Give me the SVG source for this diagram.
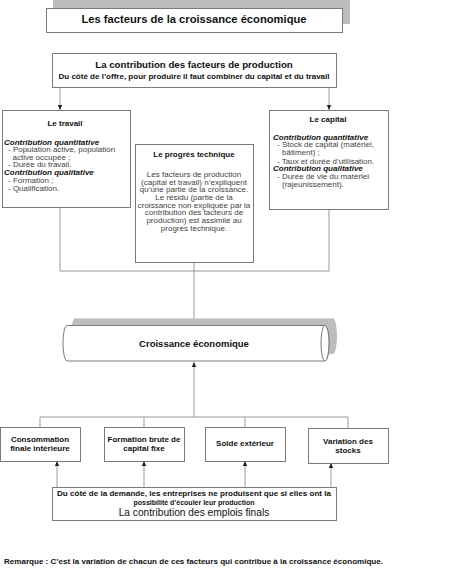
<svg xmlns="http://www.w3.org/2000/svg" width="474" height="577" viewBox="0 0 474 577">
<defs>
<style>
text{font-family:"Liberation Sans",Arial,sans-serif;fill:#111}
.box{fill:#fff;stroke:#7a7a7a;stroke-width:1}
.sh{fill:#bdbdbd;stroke:none}
.ln{fill:none;stroke:#9a9a9a;stroke-width:1}
.b{font-weight:bold}
.bi{font-weight:bold;font-style:italic;font-size:8px}
.t8{font-size:8px;fill:#444}
.c{text-anchor:middle}
.hb{font-weight:bold;font-size:8px}
</style>
<marker id="ar" markerWidth="6" markerHeight="6" refX="5" refY="3" orient="auto" markerUnits="userSpaceOnUse">
<path d="M0,0.8 L5,3 L0,5.2 Z" fill="#222"/>
</marker>
</defs>
<rect width="474" height="577" fill="#fff"/>

<g id="connectors">
<line class="ln" x1="60" y1="87" x2="60" y2="110" marker-end="url(#ar)"/>
<line class="ln" x1="329" y1="87" x2="329" y2="110" marker-end="url(#ar)"/>
<polyline class="ln" points="60,208 60,271 329,271 329,209"/>
<line class="ln" x1="194" y1="262" x2="194" y2="325" marker-end="url(#ar)"/>
<line class="ln" x1="194" y1="417" x2="194" y2="362" marker-end="url(#ar)"/>
<polyline class="ln" points="40,427 40,417 348,417 348,428"/>
<line class="ln" x1="144" y1="417" x2="144" y2="427"/>
<line class="ln" x1="245" y1="417" x2="245" y2="427"/>
<line class="ln" x1="57" y1="487" x2="57" y2="461" marker-end="url(#ar)"/>
<line class="ln" x1="144" y1="487" x2="144" y2="461" marker-end="url(#ar)"/>
<line class="ln" x1="245" y1="487" x2="245" y2="461" marker-end="url(#ar)"/>
<line class="ln" x1="331" y1="487" x2="331" y2="463" marker-end="url(#ar)"/>
</g>

<g id="title">
<rect class="sh" x="53" y="0" width="297" height="24"/>
<rect class="box" x="46.5" y="8.5" width="296" height="24"/>
<text class="b c" x="194" y="23" font-size="11.2">Les facteurs de la croissance économique</text>
</g>

<g id="offre">
<rect class="box" x="52.5" y="53.5" width="284" height="34"/>
<text class="b c" x="194" y="68" font-size="9.7">La contribution des facteurs de production</text>
<text class="b c" x="194" y="78.5" font-size="7" textLength="271" lengthAdjust="spacingAndGlyphs">Du côté de l’offre, pour produire il faut combiner du capital et du travail</text>
</g>

<g id="travail">
<rect class="box" x="2.5" y="110.5" width="128" height="97"/>
<text class="hb c" x="65" y="126">Le travail</text>
<text class="bi" x="4" y="144.5">Contribution quantitative</text>
<text class="t8" x="8" y="152">- Population active, population</text>
<text class="t8" x="12.5" y="159.5">active occupée ;</text>
<text class="t8" x="8" y="167">- Durée du travail.</text>
<text class="bi" x="4" y="175">Contribution qualitative</text>
<text class="t8" x="8" y="183">- Formation ;</text>
<text class="t8" x="8" y="190.5">- Qualification.</text>
</g>

<g id="progres">
<rect class="box" x="135.5" y="144.5" width="118" height="118"/>
<text class="hb c" x="194" y="157">Le progrès technique</text>
<text class="t8 c" x="194" y="177">Les facteurs de production</text>
<text class="t8 c" x="194" y="184.7">(capital et travail) n’expliquent</text>
<text class="t8 c" x="194" y="192.3">qu’une partie de la croissance.</text>
<text class="t8 c" x="194" y="200">Le résidu (partie de la</text>
<text class="t8 c" x="194" y="207.7">croissance non expliquée par la</text>
<text class="t8 c" x="194" y="215.3">contribution des facteurs de</text>
<text class="t8 c" x="194" y="223">production) est assimilé au</text>
<text class="t8 c" x="194" y="230.7">progrès technique.</text>
</g>

<g id="capital">
<rect class="box" x="269.5" y="110.5" width="119" height="99"/>
<text class="hb c" x="328" y="121.5">Le capital</text>
<text class="bi" x="273" y="139.5">Contribution quantitative</text>
<text class="t8" x="277" y="147">- Stock de capital (matériel,</text>
<text class="t8" x="282" y="155">bâtiment) ;</text>
<text class="t8" x="277" y="163.5">- Taux et durée d’utilisation.</text>
<text class="bi" x="273" y="171">Contribution qualitative</text>
<text class="t8" x="277" y="179">- Durée de vie du matériel</text>
<text class="t8" x="282" y="187">(rajeunissement).</text>
</g>

<g id="croissance">
<path class="sh" d="M75,318.5 L333,318.5 A4,17.75 0 0 1 333,354 L75,354 A4,17.75 0 0 1 75,318.5 Z"/>
<path class="box" d="M67,325.5 L325,325.5 A4,17.75 0 0 1 325,361 L67,361 A4,17.75 0 0 1 67,325.5 Z"/>
<ellipse class="box" cx="325" cy="343.25" rx="4" ry="17.75" fill="none"/>
<text class="b c" x="194" y="346.5" font-size="9.5">Croissance économique</text>
</g>

<g id="consommation">
<rect class="box" x="0.5" y="427.5" width="80" height="34"/>
<text class="hb c" x="40" y="442">Consommation</text>
<text class="hb c" x="40" y="451.3">finale intérieure</text>
</g>
<g id="formation">
<rect class="box" x="104.5" y="427.5" width="80" height="34"/>
<text class="hb c" x="144" y="442">Formation brute de</text>
<text class="hb c" x="144" y="451.3">capital fixe</text>
</g>
<g id="solde">
<rect class="box" x="205.5" y="427.5" width="80" height="34"/>
<text class="hb c" x="245" y="446.3">Solde extérieur</text>
</g>
<g id="variation">
<rect class="box" x="308.5" y="428.5" width="80" height="35"/>
<text class="hb c" x="348" y="443.7">Variation des</text>
<text class="hb c" x="348" y="453.3">stocks</text>
</g>

<g id="demande">
<rect class="box" x="52.5" y="487.5" width="284" height="33"/>
<text class="b c" x="194" y="495.5" font-size="7" textLength="274" lengthAdjust="spacingAndGlyphs">Du côté de la demande, les entreprises ne produisent que si elles ont la</text>
<text class="b c" x="194" y="504.5" font-size="7">possibilité d’écouler leur production</text>
<text class="c" x="194" y="516" font-size="10.2">La contribution des emplois finals</text>
</g>

<text class="b" x="4" y="563.5" font-size="7.5" textLength="379" lengthAdjust="spacingAndGlyphs">Remarque : C’est la variation de chacun de ces facteurs qui contribue à la croissance économique.</text>
</svg>
